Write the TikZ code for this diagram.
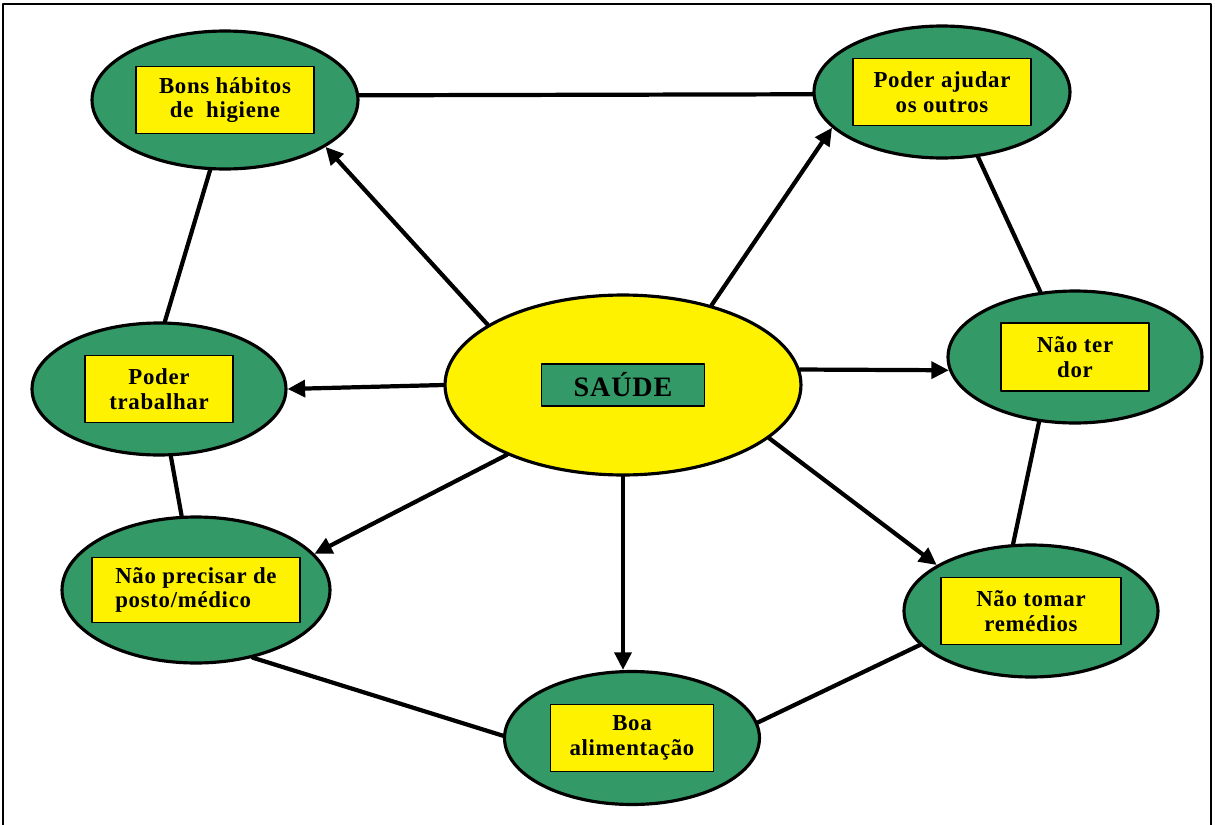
\documentclass[tikz,border=0pt]{standalone}
\usepackage{fontspec}
\newfontfamily\rotulo{Liberation Serif}[LetterSpace=3]
\usetikzlibrary{arrows.meta,shapes.geometric}
\definecolor{verde}{RGB}{51,153,102}

\begin{document}
\begin{tikzpicture}[line width=2.4pt, line cap=round, line join=round, >={Triangle[length=10pt, width=9.5pt]}, x=0.02cm, y=-0.02cm,
    bola/.style={ellipse, draw, line width=1.8pt, fill=verde, inner sep=0pt, minimum width=5.08cm, minimum height=2.64cm},
    caixa/.style={rectangle, draw, line width=0.6pt, fill=yellow, inner sep=0pt, minimum width=3.56cm, minimum height=1.34cm, align=center, font=\rotulo\bfseries\fontsize{13}{14}\selectfont}]
    \useasboundingbox (0,0) rectangle (1215,825);
    \draw[line width=1.2pt, line cap=butt] (3,825) -- (3,4) -- (1211,4) -- (1211,825);
    \draw(623,385) node[bola, fill=yellow, minimum width=7.12cm, minimum height=3.6cm] (n0) {};
    \draw(n0) node[caixa, fill=verde, minimum width=3.26cm, minimum height=0.84cm, font=\rotulo\bfseries\fontsize{16}{16}\selectfont] (t0) {SAÚDE};
    \draw(225,100) node[bola, minimum width=5.32cm, minimum height=2.76cm] (n1) {};
    \draw(n1) node[caixa] (t1) {Bons hábitos\\de~ higiene};
    \draw(942,92) node[bola, minimum width=5.12cm] (n2) {};
    \draw(n2) node[caixa] (t2) {Poder ajudar\\os outros};
    \draw(159,389) node[bola] (n3) {};
    \draw(n3) node[caixa, minimum width=2.96cm] (t3) {Poder\\trabalhar};
    \draw(1075,357) node[bola] (n4) {};
    \draw(n4) node[caixa, minimum width=2.96cm, minimum height=1.36cm] (t4) {Não ter\\dor};
    \draw(196,590) node[bola, minimum width=5.36cm, minimum height=2.92cm] (n5) {};
    \draw(n5) node[caixa, minimum width=4.16cm, minimum height=1.3cm, align=left] (t5) {Não precisar de\\posto/médico};
    \draw(1031,611) node[bola] (n6) {};
    \draw(n6) node[caixa, minimum width=3.6cm] (t6) {Não tomar\\remédios};
    \draw(632,738) node[bola, minimum width=5.1cm, minimum height=2.66cm] (n7) {};
    \draw(n7) node[caixa, minimum width=3.26cm] (t7) {Boa\\alimentação};
    \draw[->] (n0.156) -- (n1.-25);
    \draw[->] (n0.42) -- (n2.198);
    \draw[->] (n0.5) -- (n4.186);
    \draw[->] (n0.-20) -- (n6.154);
    \draw[->] (n0.south) -- (n0.south |- n7.north);
    \draw[->] (n0.211) -- (n5.17);
    \draw[->] (n0.west) -- (n3.east);
    \draw (n1.2) -- (n2.181);
    \draw (n1.258) -- (n3.85);
    \draw (n2.-61) -- (n4.118);
    \draw (n4.241) -- (n6.105);
    \draw (n6.197) -- (n7.7);
    \draw (n7.179) -- (n5.310);
    \draw (n5.101) -- (n3.280);
\end{tikzpicture}
\end{document}
